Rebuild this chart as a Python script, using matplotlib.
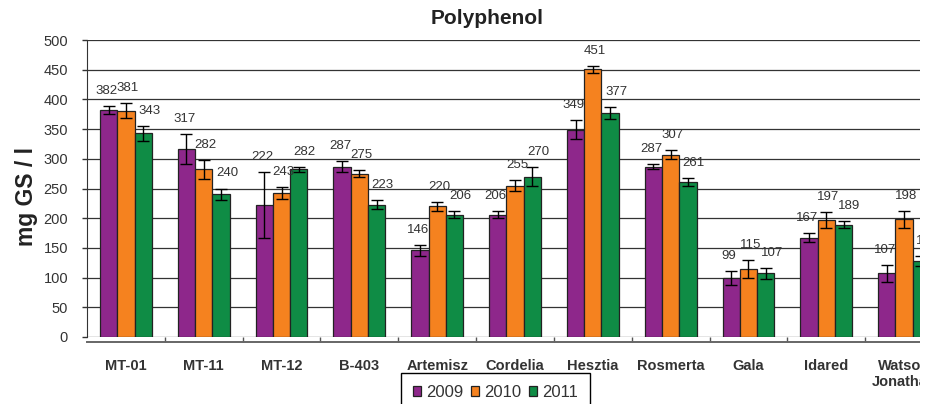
import matplotlib.pyplot as plt
import numpy as np
from matplotlib.patches import Rectangle

plt.rcParams['font.family'] = ['Liberation Sans', 'DejaVu Sans']

# data
cultivars = ["MT-01", "MT-11", "MT-12", "B-403", "Artemisz", "Cordelia",
             "Hesztia", "Rosmerta", "Gala", "Idared", "Watson\nJonathan"]
years = ["2009", "2010", "2011"]
v2009 = [382, 317, 222, 287, 146, 206, 349, 287, 99, 167, 107]
v2010 = [381, 282, 243, 275, 220, 255, 451, 307, 115, 197, 198]
v2011 = [343, 240, 282, 223, 206, 270, 377, 261, 107, 189, 128]
e2009 = [7, 25, 55, 9, 9.5, 6.5, 16, 5, 12, 7.5, 15]
e2010 = [13, 16, 10, 6, 8, 9, 6, 7, 15, 13, 14]
e2011 = [13, 10, 5, 8, 6.5, 16, 10, 6, 9.5, 6, 8]

colors = ['#8E278B', '#F5821F', '#0F8C45']
label_dx = [-2, 2, 6]   # small horizontal nudge of the value labels (pixels)

W, H = 934, 404
fig = plt.figure(figsize=(W / 100, H / 100), dpi=100)
# the original is cropped on the right, so the axes run past the figure edge
ax = fig.add_axes([87 / W, 1 - 337 / H, (943 - 87) / W, (337 - 40) / H])

x = np.arange(len(cultivars))
w = 0.222
series = [(v2009, e2009), (v2010, e2010), (v2011, e2011)]
for k, (vals, errs) in enumerate(series):
    pos = x + (k - 1) * w
    ax.bar(pos, vals, w, color=colors[k], edgecolor='#222222', linewidth=0.9,
           zorder=3, label=years[k])
    ax.errorbar(pos, vals, yerr=errs, fmt='none', ecolor='black',
                elinewidth=1, capsize=4, capthick=1, zorder=4)
    for xi, v, e in zip(pos, vals, errs):
        ax.annotate(str(v), (xi, v + e), xytext=(label_dx[k], 15),
                    textcoords='offset pixels', ha='center', va='center',
                    fontsize=9.5, color='#333333', zorder=5)

ax.set_xlim(-0.5, len(cultivars) - 0.5)
ax.set_ylim(0, 500)
ax.set_yticks(np.arange(0, 501, 50))
ax.yaxis.grid(True, color='#333333', linewidth=0.9, zorder=0)
ax.set_axisbelow(True)

# spine position resets the ticks, so do it before styling the labels
ax.spines['top'].set_visible(False)
ax.spines['right'].set_visible(False)
ax.spines['left'].set_color('#333333')
ax.spines['bottom'].set_color('#666666')
ax.spines['bottom'].set_linewidth(1.4)
ax.spines['bottom'].set_position(('outward', 3.6))

ax.set_xticks(x)
ax.set_xticks(x[:-1] + 0.5, minor=True)
ax.tick_params(axis='x', which='major', length=0, pad=12)
ax.tick_params(axis='x', which='minor', direction='in', length=3.6,
               width=1, color='#555555')
ax.tick_params(axis='y', direction='out', length=3.6, width=1, pad=10,
               labelsize=10.5, labelcolor='#333333', color='#333333')
ax.set_xticklabels(cultivars, fontsize=10.5, fontweight='bold',
                   color='#333333', linespacing=1.25)

fig.text(487 / W, 1 - 18 / H, "Polyphenol", ha='center', va='center',
         fontsize=15, fontweight='bold', color='#222222')
fig.text(27 / W, 1 - 196 / H, "mg GS / l", rotation=90, ha='center',
         va='center', fontsize=16.5, fontweight='bold', color='#222222')

leg = ax.legend(loc='upper left', bbox_to_anchor=(401 / W, 1 - 373 / H),
                bbox_transform=fig.transFigure, ncol=3, fontsize=12,
                frameon=True, fancybox=False, edgecolor='black',
                handlelength=0.5, handleheight=0.5, handletextpad=0.3,
                columnspacing=0.45, borderpad=0.7, borderaxespad=0)
leg.get_frame().set_linewidth(1)
leg.get_frame().set_alpha(1)
for t in leg.get_texts():
    t.set_color('#333333')

# white strip on the right edge, like the crop in the original
fig.patches.append(Rectangle((920 / W, 0), 1 - 920 / W, 1,
                             transform=fig.transFigure, facecolor='white',
                             edgecolor='none', zorder=20))

fig.savefig('out.png', dpi=100)
